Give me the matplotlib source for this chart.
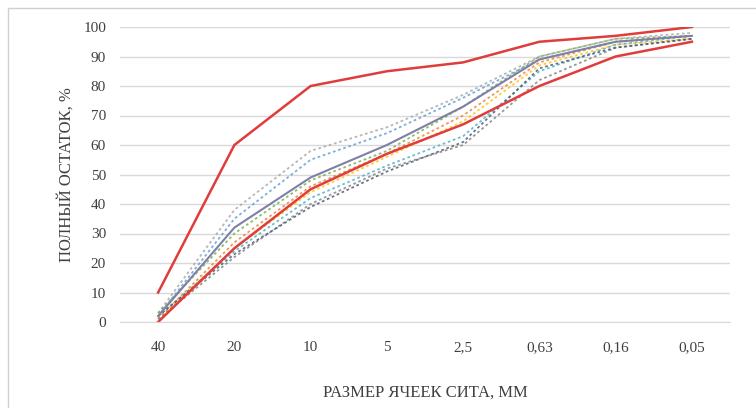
import matplotlib.pyplot as plt
from matplotlib.patches import Rectangle

plt.rcParams['font.family'] = ['Liberation Serif', 'DejaVu Serif']

sizes = ['40', '20', '10', '5', '2,5', '0,63', '0,16', '0,05']

# границы (красные)
upper = [10, 60, 80, 85, 88, 95, 97, 100]
lower = [0, 25, 45, 57, 67, 80, 90, 95]

# средняя кривая (сплошная)
mean_curve = [2, 32, 49, 60, 73, 89, 95, 97]

# пробы (пунктир)
samples = {
    'p1': [3, 38, 58, 66, 77, 90, 96, 98],
    'p2': [2, 35, 55, 64, 76, 89, 95, 97],
    'p3': [3, 30, 48, 58, 73, 90, 96, 97],
    'p4': [1, 27, 46, 57, 70, 88, 95, 97],
    'p5': [1, 25, 44, 56, 68, 87, 94, 96],
    'p6': [2, 24, 42, 53, 63, 85, 94, 97],
    'p7': [1, 22, 40, 52, 60, 82, 93, 96],
    'p8': [2, 23, 39, 51, 61, 86, 93, 96],
}
sample_colors = ['#a5a5a5', '#5b9bd5', '#70ad47', '#ed7d31',
                 '#ffc000', '#4bacc6', '#7f7f7f', '#44546a']

fig = plt.figure(figsize=(7.56, 4.08), dpi=100)
fig.patches.append(Rectangle((8 / 756, -0.05), 1.0, 1.05 - 8 / 408,
                             transform=fig.transFigure, fill=False,
                             ec='#d0d0d0', lw=1))
ax = fig.add_axes([120 / 756, 1 - 322 / 408, 610 / 756, 295 / 408])

x = range(len(sizes))
for (name, vals), c in zip(samples.items(), sample_colors):
    ax.plot(x, vals, color=c, lw=1.3, ls=(0, (1.5, 1.5)), alpha=0.8)
ax.plot(x, mean_curve, color='#7f7fa8', lw=1.5)
ax.plot(x, upper, color='#e03c3c', lw=1.8)
ax.plot(x, lower, color='#e03c3c', lw=1.8)

ax.set_xlim(-0.5, len(sizes) - 0.5)
ax.set_ylim(0, 100)
ax.set_yticks(range(0, 101, 10))
ax.set_xticks(list(x))
ax.set_xticklabels(sizes)
ax.grid(axis='y', color='#d9d9d9', lw=1)
ax.set_axisbelow(True)
for s in ['top', 'right', 'left']:
    ax.spines[s].set_visible(False)
ax.spines['bottom'].set_color('#d9d9d9')
ax.tick_params(axis='both', length=0, labelsize=11, colors='#404040')
ax.tick_params(axis='x', pad=14)
ax.tick_params(axis='y', pad=10)

ax.set_ylabel('ПОЛНЫЙ ОСТАТОК, %', fontsize=12, color='#404040', labelpad=6)
ax.set_xlabel('РАЗМЕР ЯЧЕЕК СИТА, ММ', fontsize=12, color='#404040', labelpad=22)

fig.savefig('out.png', dpi=100)
